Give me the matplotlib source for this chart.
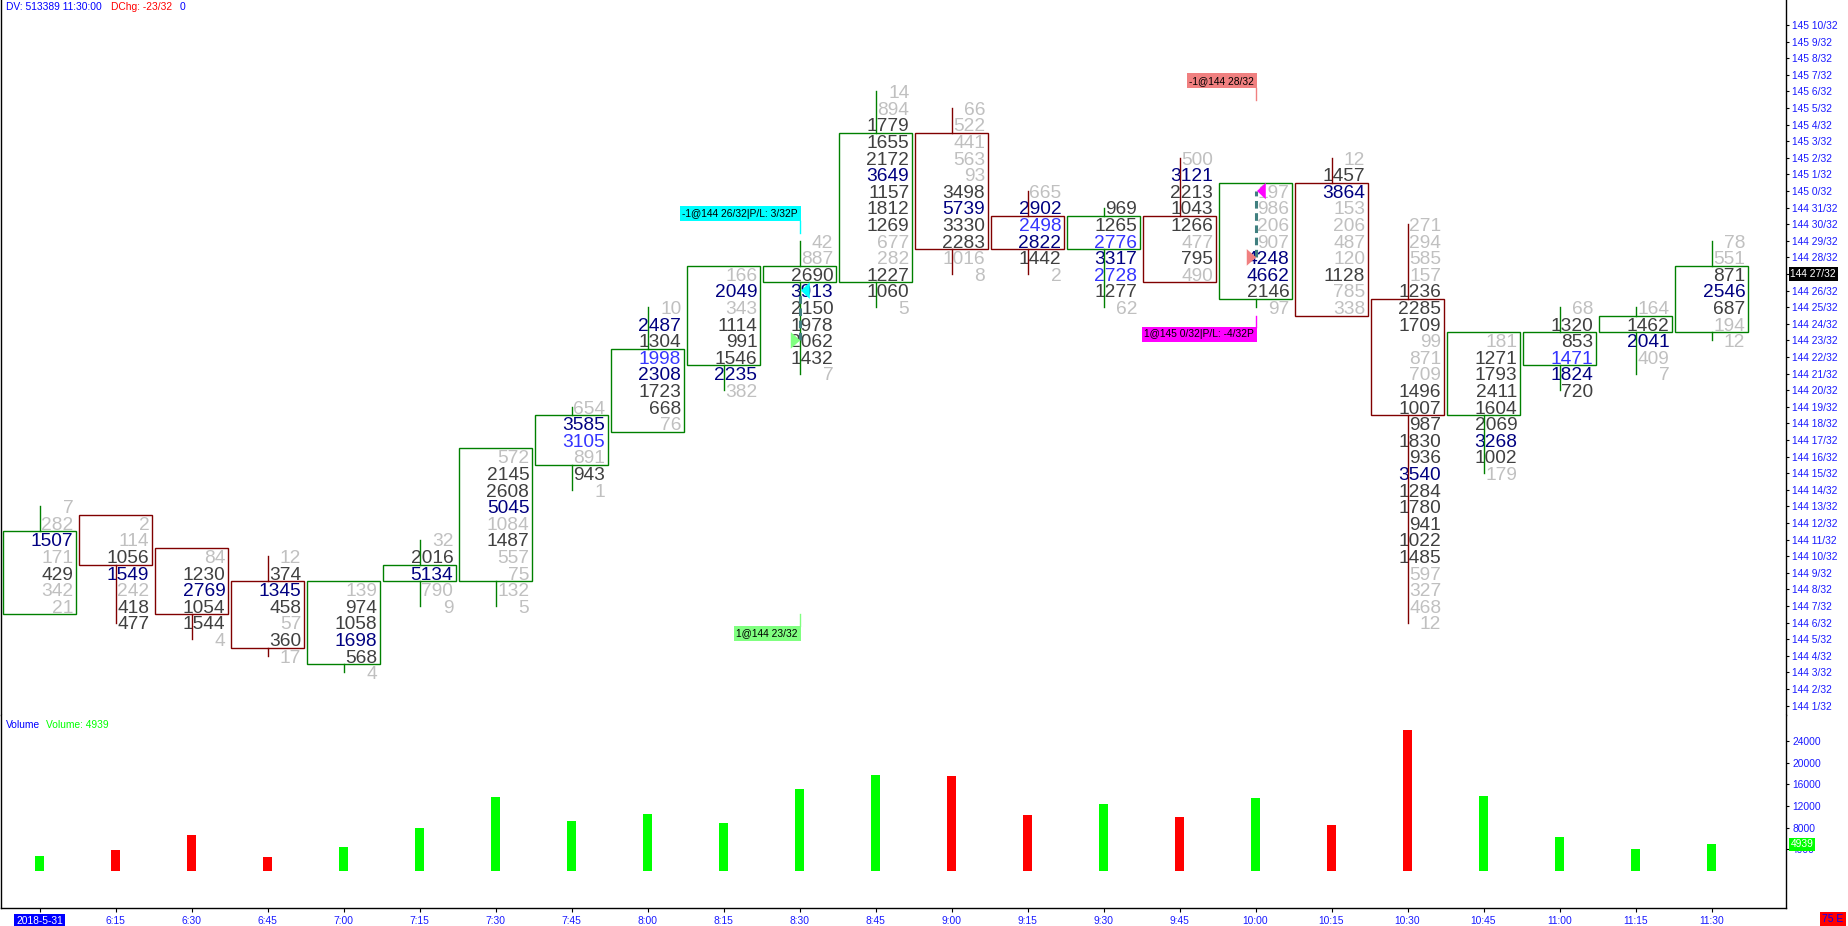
import matplotlib.pyplot as plt
from matplotlib.patches import Rectangle, Polygon

plt.rcParams['font.family'] = ['Liberation Sans', 'DejaVu Sans']

W, H = 1848, 926

# bar times (15 min footprint bars), first one shows the date instead
times = ['6:00', '6:15', '6:30', '6:45', '7:00', '7:15', '7:30', '7:45', '8:00', '8:15',
         '8:30', '8:45', '9:00', '9:15', '9:30', '9:45', '10:00', '10:15', '10:30',
         '10:45', '11:00', '11:15', '11:30']
date_label = '2018-5-31'

# prices in 1/32 above 144
opens = [7, 12, 10, 8, 4, 9, 9, 16, 18, 22, 27, 27, 35, 30, 29, 30, 26, 32, 25, 19, 22, 24, 24]
highs = [13, 12, 10, 10, 8, 11, 16, 19, 25, 27, 29, 38, 37, 32, 31, 34, 32, 34, 30, 23, 25, 25, 29]
lows = [7, 6, 5, 4, 3, 7, 7, 14, 18, 20, 21, 25, 27, 27, 25, 27, 25, 25, 6, 15, 20, 21, 23]
closes = [11, 10, 7, 5, 8, 9, 16, 18, 22, 27, 27, 35, 29, 29, 30, 27, 32, 25, 19, 23, 23, 24, 27]

# volume at each price, from high down to low
cells = [
    [7, 282, 1507, 171, 429, 342, 21],
    [2, 114, 1056, 1549, 242, 418, 477],
    [84, 1230, 2769, 1054, 1544, 4],
    [12, 374, 1345, 458, 57, 360, 17],
    [139, 974, 1058, 1698, 568, 4],
    [32, 2016, 5134, 790, 9],
    [572, 2145, 2608, 5045, 1084, 1487, 557, 75, 132, 5],
    [654, 3585, 3105, 891, 943, 1],
    [10, 2487, 1304, 1998, 2308, 1723, 668, 76],
    [166, 2049, 343, 1114, 991, 1546, 2235, 382],
    [42, 887, 2690, 3913, 2150, 1978, 2062, 1432, 7],
    [14, 894, 1779, 1655, 2172, 3649, 1157, 1812, 1269, 677, 282, 1227, 1060, 5],
    [66, 522, 441, 563, 93, 3498, 5739, 3330, 2283, 1016, 8],
    [665, 2902, 2498, 2822, 1442, 2],
    [969, 1265, 2776, 3317, 2728, 1277, 62],
    [500, 3121, 2213, 1043, 1266, 477, 795, 490],
    [197, 986, 206, 907, 4248, 4662, 2146, 97],
    [12, 1457, 3864, 153, 206, 487, 120, 1128, 785, 338],
    [271, 294, 585, 157, 1236, 2285, 1709, 99, 871, 709, 1496, 1007, 987, 1830, 936,
     3540, 1284, 1780, 941, 1022, 1485, 597, 327, 468, 12],
    [181, 1271, 1793, 2411, 1604, 2069, 3268, 1002, 179],
    [68, 1320, 853, 1471, 1824, 720],
    [164, 1462, 2041, 409, 7],
    [78, 551, 871, 2546, 687, 194, 12],
]

# trades: entry / exit on a bar
trade_bar = [10, 16]
entry_px = [23, 28]
exit_px = [26, 32]
entry_txt = ['1@144 23/32', '-1@144 28/32']
exit_txt = ['-1@144 26/32|P/L: 3/32P', '1@145 0/32|P/L: -4/32P']
entry_col = ['#80ff80', '#f08080']
exit_col = ['#00ffff', '#ff00ff']
entry_anchor = [6.5, 37.5]
exit_anchor = [29.5, 24.5]
entry_buy = [True, False]

last_px = 27
vol_ticks = [4000, 8000, 12000, 16000, 20000, 24000]


def px_label(p):
    return '%d %d/32' % (144 + p // 32, p % 32)


def cell_color(v, vmax):
    r = v / vmax
    if r >= 0.9:
        return '#000080'
    if r >= 0.8:
        return '#3535ff'
    if r >= 0.25:
        return '#404040'
    return '#c0c0c0'


blue = '#1a1aff'
green = '#008000'
maroon = '#800000'

fig = plt.figure(figsize=(W / 100, H / 100), dpi=100)
ax = fig.add_axes([0.5 / W, (H - 715) / H, 1785.5 / W, 715 / H])
axv = fig.add_axes([0.5 / W, (H - 908) / H, 1785.5 / W, 193 / H])

xl = ((0.5 - 39.5) / 76, (1786 - 39.5) / 76)
ax.set_xlim(xl)
axv.set_xlim(xl)
ax.set_ylim(42 - 690 / 16.6, 42 + 25 / 16.6)
axv.set_ylim(-37 / 5.42 * 1000, 156 / 5.42 * 1000)

hw = 36.2 / 76
for i in range(len(times)):
    o, h, l, c = opens[i], highs[i], lows[i], closes[i]
    col = green if c >= o else maroon
    top, bot = max(o, c) + 0.5, min(o, c) - 0.5
    ax.add_patch(Rectangle((i - hw, bot), 2 * hw, top - bot, fill=False,
                           ec=col, lw=1.0, zorder=3))
    if h > max(o, c):
        ax.plot([i, i], [top, h], color=col, lw=1.0, zorder=3)
    if l < min(o, c):
        ax.plot([i, i], [bot, l], color=col, lw=1.0, zorder=3)
    vmax = max(cells[i])
    for k, v in enumerate(cells[i]):
        p = h - k
        ax.text(i + 33.8 / 76, p - 0.41, str(v), ha='right', va='baseline',
                fontsize=13.8, color=cell_color(v, vmax), zorder=2)

# trades
for t in range(len(trade_bar)):
    i = trade_bar[t]
    ax.plot([i, i], [entry_px[t], exit_px[t]], color='#408080', lw=2.2,
            dashes=(2.5, 1.5), zorder=4)
    ax.add_patch(Polygon([(i - 0.115, entry_px[t] - 0.5), (i - 0.115, entry_px[t] + 0.5),
                          (i + 0.01, entry_px[t])], closed=True, fc=entry_col[t], ec='none', zorder=5))
    ax.add_patch(Polygon([(i + 0.135, exit_px[t] - 0.5), (i + 0.135, exit_px[t] + 0.5),
                          (i + 0.02, exit_px[t])], closed=True, fc=exit_col[t], ec='none', zorder=5))
    for txt, col, anc, buy in [(entry_txt[t], entry_col[t], entry_anchor[t], entry_buy[t]),
                               (exit_txt[t], exit_col[t], exit_anchor[t], not entry_buy[t])]:
        d = -1 if buy else 1
        ax.plot([i, i], [anc, anc + d * 0.7], color=col, lw=1.0, zorder=4)
        ax.text(i - 0.02, anc + d * 1.14, txt, ha='right', va='center', fontsize=7.4,
                color='black', zorder=6,
                bbox=dict(boxstyle='square,pad=0.25', fc=col, ec='none'))

# volume
vols = [sum(c) for c in cells]
vcols = ['#00ff00' if closes[i] >= opens[i] else '#ff0000' for i in range(len(times))]
axv.bar(range(len(times)), vols, width=9.5 / 76, color=vcols)

# axes styling
for a in (ax, axv):
    a.spines['top'].set_visible(False)
    a.spines['left'].set_linewidth(1.0)
    a.spines['right'].set_linewidth(1.0)
    a.yaxis.tick_right()
    a.tick_params(axis='y', direction='out', length=2.5, width=0.8, pad=2,
                  labelsize=7.4, labelcolor=blue)
ax.spines['bottom'].set_visible(False)
ax.set_xticks([])
yt = list(range(1, 43))
ax.set_yticks(yt)
ax.set_yticklabels(['' if p == last_px else px_label(p) for p in yt])
ax.text(1.0025, last_px, px_label(last_px), transform=ax.get_yaxis_transform(),
        ha='left', va='center', fontsize=7.4, color='white', zorder=10,
        bbox=dict(boxstyle='square,pad=0.15', fc='black', ec='none'))

axv.set_yticks(vol_ticks)
axv.set_yticklabels([str(v) for v in vol_ticks])
axv.spines['bottom'].set_linewidth(1.0)
axv.set_xticks(range(len(times)))
axv.set_xticklabels([date_label] + times[1:])
axv.tick_params(axis='x', direction='out', length=3, width=0.8, pad=3,
                labelsize=7.4, labelcolor=blue)
first = axv.get_xticklabels()[0]
first.set_color('white')
first.set_bbox(dict(boxstyle='square,pad=0.2', fc='#0000ff', ec='none'))
axv.text(1.0025, vols[-1], str(vols[-1]), transform=axv.get_yaxis_transform(),
         ha='left', va='center', fontsize=7.4, color='white', zorder=10,
         bbox=dict(boxstyle='square,pad=0.15', fc='#00ff00', ec='none'))

# header texts
fig.text(6 / W, 1 - 7 / H, 'DV: 513389 11:30:00', color='#0000ff', fontsize=7.4, va='center')
fig.text(111 / W, 1 - 7 / H, 'DChg: -23/32', color='#ff0000', fontsize=7.4, va='center')
fig.text(180 / W, 1 - 7 / H, '0', color='#0000ff', fontsize=7.4, va='center')
fig.text(6 / W, 1 - 725 / H, 'Volume', color='#0000ff', fontsize=7.4, va='center')
fig.text(46 / W, 1 - 725 / H, 'Volume: %d' % vols[-1], color='#00ff00', fontsize=7.4, va='center')
fig.text(1833 / W, 1 - 919.5 / H, '75 E', color='#0000ff', fontsize=7.4, ha='center', va='center',
         bbox=dict(boxstyle='square,pad=0.2', fc='#ff0000', ec='none'))

fig.savefig('out.png', dpi=100, facecolor='white')
